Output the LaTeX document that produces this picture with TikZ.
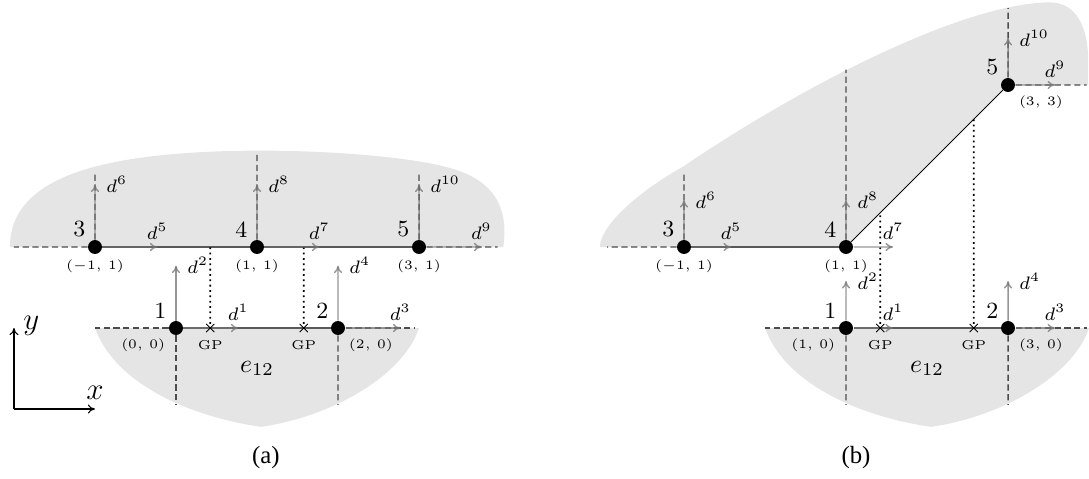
\documentclass[tikz,border=0pt]{standalone}
\usepackage{amsmath,amssymb}
\usepackage{xcolor}
\usepackage{fontspec}
\newfontfamily\capfont{Liberation Serif}
\usepackage{tikz}
\usetikzlibrary{arrows.meta, positioning, calc, shapes.misc, backgrounds}

\begin{document}
\begin{tikzpicture}[x=1.1034cm, y=1.1034cm, scale=1.45, transform shape,
      dof/.style={circle, fill=black, inner sep=0pt, minimum size=5.4pt},
      num/.style={font=\small, inner sep=1.5pt},
      coord/.style={font=\tiny, inner sep=2pt},
      dlbl/.style={font=\scriptsize, inner sep=1pt, opacity=1},
      gp/.style={cross out, draw=black, line width=0.5pt, inner sep=0pt, minimum size=2.7pt},
      gplbl/.style={font=\tiny, inner sep=3pt},
      elemline/.style={draw=black!65, line width=1pt},
      ext/.style={draw=black!70, line width=0.8pt, dash pattern=on 3.5pt off 2pt},
      darrow/.style={draw=black!55, opacity=0.75, line width=0.8pt, -{To[length=4.2pt, width=4.6pt]}},
      gpline/.style={draw=black, line width=1pt, dotted},
      region/.style={fill=gray!20},
      axis/.style={line width=0.6pt, -{To[length=4pt, width=5pt]}},
      caption/.style={font=\fontsize{9.6}{11}\selectfont\capfont}
    ]
    \useasboundingbox (-2.1728,-1.8519) rectangle (11.2716,4.0494);

    % (a) straight element
    \node[dof, label={[num]above left:1}, label={[coord]below left:{$(0,\,0)$}}] (a1) at (0,0) {};
    \node[dof, label={[num]above left:2}, label={[coord]below right:{$(2,\,0)$}}] (a2) at (2,0) {};
    \node[dof, label={[num]above left:3}, label={[coord]below:{$(-1,\,1)$}}] (a3) at (-1,1) {};
    \node[dof, label={[num]above left:4}, label={[coord]below:{$(1,\,1)$}}] (a4) at (1,1) {};
    \node[dof, label={[num]above left:5}, label={[coord]below:{$(3,\,1)$}}] (a5) at (3,1) {};
    \node[gp, label={[gplbl]below:GP}] (agp1) at (0.4226,0) {};
    \node[gp, label={[gplbl]below:GP}] (agp2) at (1.5774,0) {};
    \node (ae) at (1,-0.5) {$e_{12}$};
    \node[caption] (capa) at (1.11,-1.605) {(a)};

    \coordinate (origin) at (-2,-1);
    \draw[axis] (origin) -- ++(0,1) node[right, font=\large, yshift=1pt] {$y$};
    \draw[axis] (origin) -- ++(1,0) node[above, font=\large] {$x$};

    \begin{scope}[on background layer]
      \fill[region] (-2.05,1) .. controls (-2.05,1.75) and (-1.2,2.05) .. (0,2.15)
        .. controls (1.2,2.25) and (2.8,2.15) .. (3.4,1.97)
        .. controls (4.0,1.8) and (4.1,1.4) .. (4.04,1) -- cycle;
      \fill[region] (-1,0) .. controls (-0.75,-0.7) and (0.2,-1.1) .. (1.05,-1.22)
        .. controls (1.9,-1.1) and (2.8,-0.6) .. (3,0) -- cycle;

      \draw[ext] (a3) -- ++(-1,0);
      \draw[ext] (a5) -- ++(0.97,0);
      \draw[ext] (a3) -- ++(0,0.93);
      \draw[ext] (a4) -- ++(0,1.14);
      \draw[ext] (a5) -- ++(0,0.93);
      \draw[ext] (a1) -- ++(-1,0);
      \draw[ext] (a2) -- ++(0.95,0);
      \draw[ext] (a1) -- ++(0,-0.95);
      \draw[ext] (a2) -- ++(0,-0.95);

      \draw[elemline] (a3) -- (a4) -- (a5);
      \draw[elemline] (a1) -- (a2);
      \draw[gpline] (agp1) -- (agp1 |- a4);
      \draw[gpline] (agp2) -- (agp2 |- a4);

      \draw[darrow] (a1) -- ++(0.77,0) node[dlbl, above=1.5pt] {$d^1$};
      \draw[darrow] (a1) -- ++(0,0.77) node[dlbl, right=3pt] {$d^2$};
      \draw[darrow] (a2) -- ++(0.77,0) node[dlbl, above=1.5pt] {$d^3$};
      \draw[darrow] (a2) -- ++(0,0.77) node[dlbl, right=3pt] {$d^4$};
      \draw[darrow] (a3) -- ++(0.77,0) node[dlbl, above=1.5pt] {$d^5$};
      \draw[darrow] (a3) -- ++(0,0.77) node[dlbl, right=3pt] {$d^6$};
      \draw[darrow] (a4) -- ++(0.77,0) node[dlbl, above=1.5pt] {$d^7$};
      \draw[darrow] (a4) -- ++(0,0.77) node[dlbl, right=3pt] {$d^8$};
      \draw[darrow] (a5) -- ++(0.77,0) node[dlbl, above=1.5pt] {$d^9$};
      \draw[darrow] (a5) -- ++(0,0.77) node[dlbl, right=3pt] {$d^{10}$};
    \end{scope}

    % (b) skewed element
    \begin{scope}[shift={(7.2716,0)}]
      \node[dof, label={[num]above left:1}, label={[coord]below left:{$(1,\,0)$}}] (b1) at (1,0) {};
      \node[dof, label={[num]above left:2}, label={[coord]below right:{$(3,\,0)$}}] (b2) at (3,0) {};
      \node[dof, label={[num]above left:3}, label={[coord]below:{$(-1,\,1)$}}] (b3) at (-1,1) {};
      \node[dof, label={[num]above left:4}, label={[coord]below:{$(1,\,1)$}}] (b4) at (1,1) {};
      \node[dof, label={[num]above left:5}, label={[coord]below right:{$(3,\,3)$}}] (b5) at (3,3) {};
      \node[gp, label={[gplbl]below:GP}] (bgp1) at (1.4226,0) {};
      \node[gp, label={[gplbl]below:GP}] (bgp2) at (2.5774,0) {};
      \node (be) at (2,-0.5) {$e_{12}$};
      \node[caption] (capb) at (1.123,-1.605) {(b)};

      \begin{scope}[on background layer]
        \fill[region] (-2.04,1) .. controls (-2.02,1.3) and (-1.5,1.72) .. (-1,2)
          .. controls (0.4,2.95) and (2.4,4.0) .. (3.5,4.02)
          .. controls (3.85,4.03) and (3.99,3.7) .. (3.99,3.3)
          -- (3.99,3) -- (3,3) -- (1,1) -- cycle;
        \fill[region] (0,0) .. controls (0.25,-0.7) and (1.2,-1.1) .. (2.05,-1.22)
          .. controls (2.9,-1.1) and (3.8,-0.6) .. (4,0) -- cycle;

        \draw[ext] (b3) -- ++(-0.95,0);
        \draw[ext] (b3) -- ++(0,0.93);
        \draw[ext] (b4) -- ++(0,2.19);
        \draw[ext] (b5) -- ++(0,0.95);
        \draw[ext] (b5) -- ++(0.97,0);
        \draw[ext] (b1) -- ++(-1,0);
        \draw[ext] (b2) -- ++(0.97,0);
        \draw[ext] (b1) -- ++(0,-0.95);
        \draw[ext] (b2) -- ++(0,-0.95);

        \draw[elemline] (b3) -- (b4);
        \draw[elemline] (b1) -- (b2);
        \draw[black, line width=0.5pt] (b4) -- (b5);
        \draw[gpline] (bgp1) -- ($(b4)!0.2113!(b5)$);
        \draw[gpline] (bgp2) -- ($(b4)!0.7887!(b5)$);

        \draw[darrow] (b1) -- ++(0.58,0) node[dlbl, above=1.5pt] {$d^1$};
        \draw[darrow] (b1) -- ++(0,0.58) node[dlbl, right=3pt] {$d^2$};
        \draw[darrow] (b2) -- ++(0.58,0) node[dlbl, above=1.5pt] {$d^3$};
        \draw[darrow] (b2) -- ++(0,0.58) node[dlbl, right=3pt] {$d^4$};
        \draw[darrow] (b3) -- ++(0.58,0) node[dlbl, above=1.5pt] {$d^5$};
        \draw[darrow] (b3) -- ++(0,0.58) node[dlbl, right=3pt] {$d^6$};
        \draw[darrow] (b4) -- ++(0.58,0) node[dlbl, above=1.5pt] {$d^7$};
        \draw[darrow] (b4) -- ++(0,0.58) node[dlbl, right=3pt] {$d^8$};
        \draw[darrow] (b5) -- ++(0.58,0) node[dlbl, above=1.5pt] {$d^9$};
        \draw[darrow] (b5) -- ++(0,0.58) node[dlbl, right=3pt] {$d^{10}$};
      \end{scope}
    \end{scope}
  \end{tikzpicture}
\end{document}
